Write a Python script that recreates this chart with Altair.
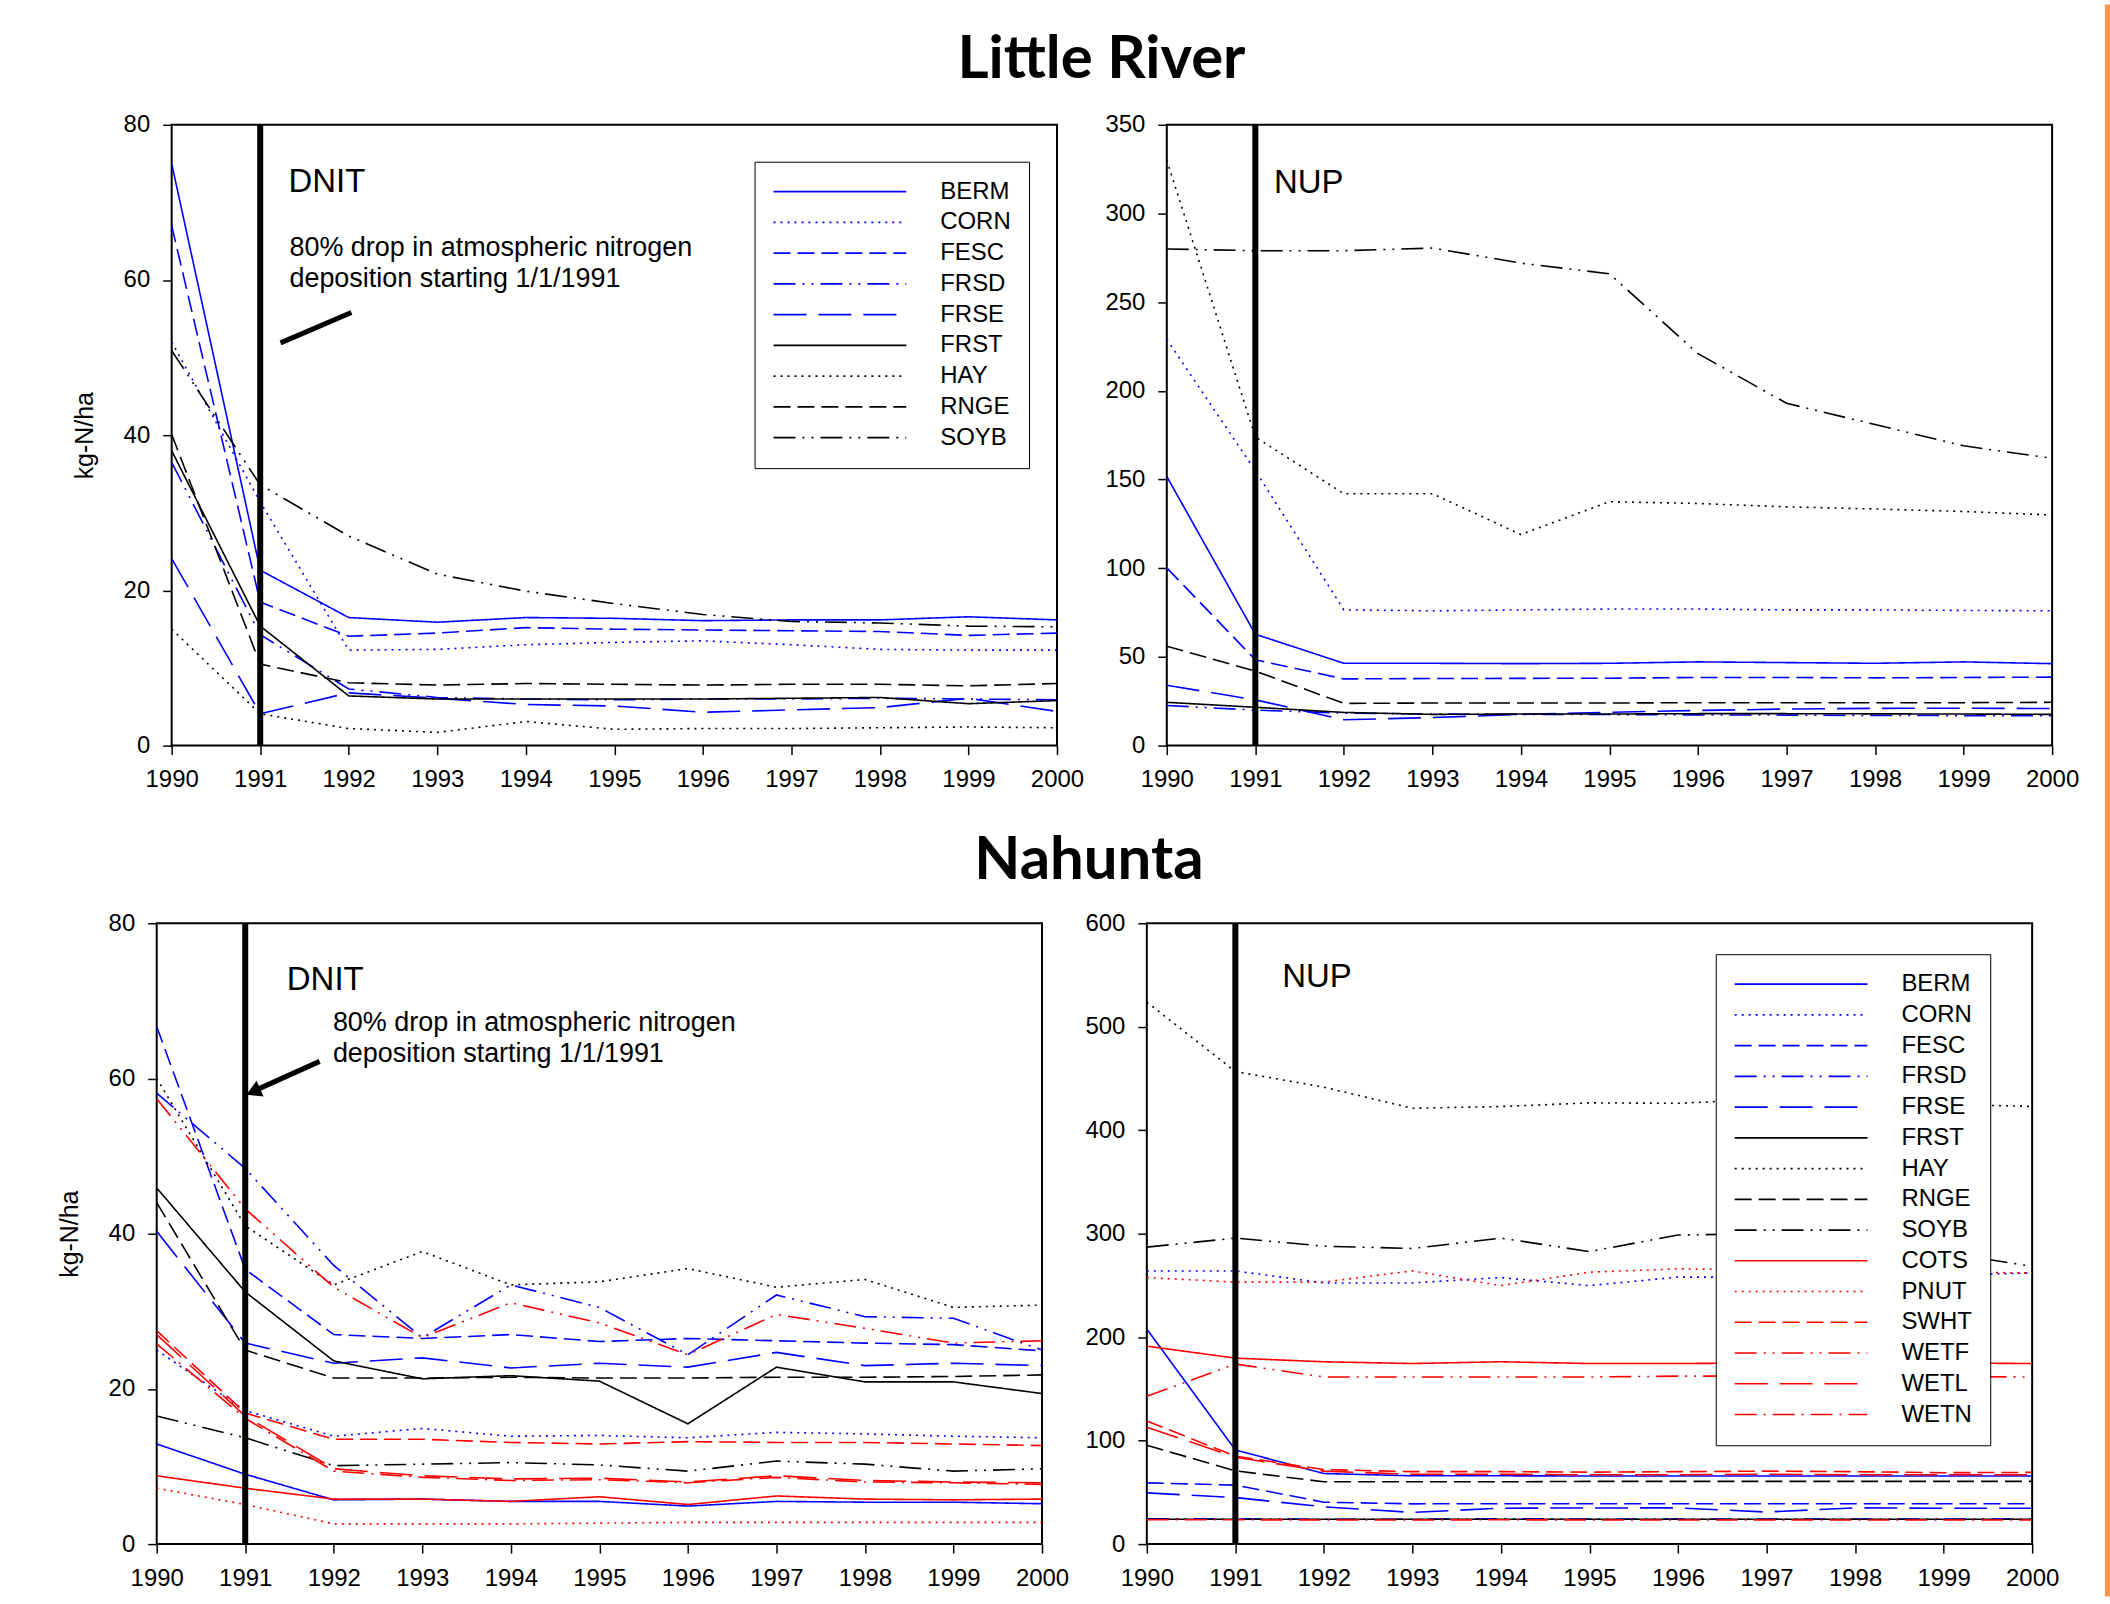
import altair as alt
import pandas as pd

FONT = "Liberation Sans"
TITLE_FONT = "Lato"
BLUE, RED, BLACK = "#0000ff", "#ff0000", "#000000"
ORANGE = "#f3954b"

YEARS = [1990, 1991, 1992, 1993, 1994, 1995, 1996, 1997, 1998, 1999, 2000]
LR_CROPS = ["BERM", "CORN", "FESC", "FRSD", "FRSE", "FRST", "HAY", "RNGE", "SOYB"]
NA_CROPS = LR_CROPS + ["COTS", "PNUT", "SWHT", "WETF", "WETL", "WETN"]

# Little River - DNIT (kg-N/ha)
LR_DNIT = {
    "BERM": [75.0, 22.6, 16.5, 15.9, 16.5, 16.4, 16.1, 16.2, 16.2, 16.6, 16.2],
    "CORN": [52.0, 31.4, 12.3, 12.4, 13.0, 13.3, 13.5, 13.0, 12.4, 12.3, 12.3],
    "FESC": [67.0, 18.5, 14.1, 14.5, 15.2, 15.0, 14.9, 14.8, 14.7, 14.2, 14.5],
    "FRSD": [36.5, 14.3, 7.3, 6.2, 6.0, 5.9, 6.0, 6.0, 6.1, 6.0, 5.9],
    "FRSE": [24.1, 4.1, 6.8, 6.1, 5.3, 5.1, 4.3, 4.6, 4.9, 6.1, 4.4],
    "FRST": [38.0, 15.4, 6.4, 6.0, 6.0, 6.0, 6.0, 6.1, 6.2, 5.4, 5.8],
    "HAY": [15.0, 4.1, 2.2, 1.7, 3.1, 2.1, 2.2, 2.2, 2.3, 2.4, 2.3],
    "RNGE": [40.1, 10.5, 8.1, 7.8, 8.0, 7.9, 7.8, 7.9, 7.9, 7.7, 8.0],
    "SOYB": [50.9, 33.6, 27.0, 22.1, 19.9, 18.3, 16.9, 16.0, 15.8, 15.4, 15.3],
}

# Little River - NUP (kg-N/ha)
LR_NUP = {
    "BERM": [151.7, 62.8, 46.4, 46.4, 46.2, 46.4, 47.2, 46.8, 46.4, 47.2, 46.2],
    "CORN": [229.0, 155.0, 76.5, 76.0, 76.5, 77.0, 77.0, 76.5, 76.5, 76.2, 76.0],
    "FESC": [100.2, 48.4, 37.6, 37.8, 37.9, 38.0, 38.4, 38.4, 38.2, 38.4, 38.6],
    "FRSD": [22.6, 20.0, 18.3, 17.8, 17.6, 17.5, 17.3, 17.2, 17.0, 16.9, 16.8],
    "FRSE": [34.0, 25.8, 14.6, 15.8, 17.6, 18.8, 19.8, 20.6, 21.0, 21.1, 20.9],
    "FRST": [24.4, 21.6, 18.7, 17.6, 17.8, 17.8, 18.0, 18.0, 17.9, 17.8, 17.6],
    "HAY": [330.0, 174.0, 142.0, 142.0, 119.0, 137.5, 136.5, 134.6, 133.4, 132.0, 130.0],
    "RNGE": [56.0, 42.0, 23.8, 24.0, 24.0, 24.0, 24.2, 24.2, 24.2, 24.2, 24.4],
    "SOYB": [280.0, 279.0, 279.0, 280.5, 272.0, 266.0, 221.0, 193.0, 181.0, 169.0, 162.0],
}

# Nahunta - DNIT (kg-N/ha)
NA_DNIT = {
    "BERM": [12.9, 9.0, 5.7, 5.8, 5.5, 5.5, 4.9, 5.5, 5.4, 5.4, 5.2],
    "CORN": [25.0, 17.2, 13.9, 14.9, 13.9, 14.0, 13.7, 14.4, 14.2, 13.9, 13.7],
    "FESC": [66.7, 35.4, 27.0, 26.5, 27.0, 26.1, 26.5, 26.2, 25.9, 25.7, 24.9],
    "FRSD": [58.1, 48.4, 35.9, 26.6, 33.4, 30.5, 24.4, 32.1, 29.3, 29.1, 25.0],
    "FRSE": [40.3, 25.9, 23.3, 24.0, 22.7, 23.3, 22.8, 24.7, 23.0, 23.3, 23.0],
    "FRST": [45.9, 32.5, 23.6, 21.3, 21.7, 21.0, 15.5, 22.8, 20.9, 20.9, 19.4],
    "HAY": [60.0, 41.0, 33.4, 37.7, 33.4, 33.8, 35.5, 33.1, 34.1, 30.5, 30.8],
    "RNGE": [44.0, 25.0, 21.4, 21.4, 21.5, 21.4, 21.4, 21.5, 21.5, 21.6, 21.8],
    "SOYB": [16.5, 13.7, 10.1, 10.3, 10.5, 10.2, 9.4, 10.7, 10.3, 9.4, 9.7],
    "COTS": [8.8, 7.2, 5.8, 5.8, 5.5, 6.1, 5.1, 6.2, 5.8, 5.7, 5.8],
    "PNUT": [7.2, 5.1, 2.6, 2.6, 2.6, 2.7, 2.8, 2.8, 2.8, 2.8, 2.8],
    "SWHT": [27.5, 16.9, 13.5, 13.5, 13.1, 12.9, 13.2, 13.1, 13.1, 12.9, 12.7],
    "WETF": [57.4, 43.2, 33.1, 26.6, 31.1, 28.5, 24.4, 29.6, 27.8, 25.9, 26.2],
    "WETL": [27.0, 16.5, 9.7, 8.8, 8.4, 8.5, 8.0, 8.8, 8.2, 8.0, 7.9],
    "WETN": [25.8, 16.2, 9.4, 8.6, 8.2, 8.3, 7.9, 8.6, 8.0, 7.9, 7.7],
}

# Nahunta - NUP (kg-N/ha)
NA_NUP = {
    "BERM": [207.8, 91.0, 68.2, 66.0, 66.0, 65.8, 65.8, 65.8, 65.8, 65.8, 65.8],
    "CORN": [264.0, 264.0, 252.4, 252.4, 257.6, 249.8, 258.0, 258.0, 258.0, 260.0, 262.0],
    "FESC": [59.2, 57.0, 40.5, 38.9, 39.0, 39.0, 39.0, 39.0, 39.0, 39.0, 39.0],
    "FRSD": [24.5, 24.2, 24.0, 24.0, 24.5, 24.2, 24.2, 24.2, 24.2, 24.2, 24.2],
    "FRSE": [49.5, 45.0, 36.0, 30.6, 34.7, 34.9, 35.0, 31.0, 35.0, 34.6, 34.6],
    "FRST": [24.0, 24.0, 24.0, 24.0, 24.0, 24.0, 24.0, 24.0, 24.0, 24.0, 24.0],
    "HAY": [523.8, 456.7, 441.6, 421.2, 422.9, 426.4, 426.0, 430.0, 428.0, 425.0, 423.0],
    "RNGE": [95.5, 70.8, 60.2, 60.2, 60.2, 60.6, 60.6, 60.6, 60.6, 60.6, 60.6],
    "SOYB": [287.0, 295.7, 287.9, 285.7, 295.7, 282.7, 298.7, 300.0, 292.0, 282.0, 268.4],
    "COTS": [191.3, 179.7, 176.2, 174.5, 176.2, 174.5, 174.5, 175.0, 175.0, 175.0, 174.5],
    "PNUT": [257.6, 253.2, 253.2, 264.0, 249.8, 262.8, 266.0, 265.0, 265.0, 263.0, 262.0],
    "SWHT": [119.0, 85.0, 72.0, 70.0, 70.0, 69.5, 70.0, 70.5, 70.0, 69.0, 69.3],
    "WETF": [142.8, 174.0, 161.5, 161.5, 161.5, 161.5, 162.3, 162.5, 162.5, 162.0, 161.5],
    "WETL": [113.0, 84.0, 70.5, 67.5, 67.5, 67.0, 67.0, 67.5, 67.0, 67.0, 67.0],
    "WETN": [23.5, 23.5, 23.3, 23.3, 23.5, 23.3, 23.3, 23.3, 23.3, 23.3, 23.3],
}

COLOR = {
    "BERM": BLUE, "CORN": BLUE, "FESC": BLUE, "FRSD": BLUE, "FRSE": BLUE,
    "FRST": BLACK, "HAY": BLACK, "RNGE": BLACK, "SOYB": BLACK,
    "COTS": RED, "PNUT": RED, "SWHT": RED, "WETF": RED, "WETL": RED, "WETN": RED,
}
SOLID = [1, 0]
DOT = [2, 5]
DASH = [17, 7]
DASHDOTDOT = [22, 7, 2, 7, 2, 7]
LONGDASH = [33, 12]
DASHDOT = [22, 7, 2, 7]
STYLE = {
    "BERM": SOLID, "CORN": DOT, "FESC": DASH, "FRSD": DASHDOTDOT, "FRSE": LONGDASH,
    "FRST": SOLID, "HAY": DOT, "RNGE": DASH, "SOYB": DASHDOTDOT,
    "COTS": SOLID, "PNUT": DOT, "SWHT": DASH, "WETF": DASHDOTDOT, "WETL": LONGDASH,
    "WETN": DASHDOT,
}

ONE = pd.DataFrame({"a": [0]})
PW, PH = 887, 622


def to_long(d, crops):
    rows = []
    for c in crops:
        for yr, v in zip(YEARS, d[c]):
            rows.append({"year": yr, "value": v, "crop": c})
    return pd.DataFrame(rows)


def x_axis():
    return alt.Axis(values=YEARS, format="d", title=None, grid=False, domain=False,
                    ticks=True, tickSize=9, tickWidth=1.5, tickColor="black",
                    labelFont=FONT, labelFontSize=24, labelColor="black",
                    labelPadding=13, labelOverlap=False, labelFlush=False)


def y_axis(ymax, step, title):
    kw = dict(values=list(range(0, ymax + 1, step)), grid=False, domain=False,
              ticks=True, tickSize=9, tickWidth=1.5, tickColor="black",
              labelFont=FONT, labelFontSize=24, labelColor="black",
              labelPadding=13, labelOverlap=False, labelFlush=False)
    if title:
        kw.update(title=title, titleFont=FONT, titleFontSize=25,
                  titleFontWeight="normal", titleColor="black", titlePadding=26)
    else:
        kw.update(title=None)
    return alt.Axis(**kw)


def make_legend(lx, ly):
    return alt.Legend(title=None, orient="none", legendX=lx, legendY=ly,
                      symbolType="stroke", symbolSize=133 * 133, symbolStrokeWidth=1.6,
                      clipHeight=24, rowPadding=6.8, padding=18, labelOffset=33,
                      labelFont=FONT, labelFontSize=24, labelColor="black",
                      strokeColor="black", fillColor="white", direction="vertical")


def text_layer(x, y, txt, size):
    return alt.Chart(ONE).mark_text(text=txt, align="left", baseline="middle", font=FONT,
                                    fontSize=size, color="black").encode(
        x=alt.datum(x), y=alt.datum(y))


def panel(data, crops, ymax, step, ytitle, legend_pos, extras):
    df = to_long(data, crops)
    xs = alt.Scale(domain=[1990, 2000], nice=False, zero=False)
    ys = alt.Scale(domain=[0, ymax], nice=False)
    leg = make_legend(*legend_pos) if legend_pos else None
    lines = alt.Chart(df).mark_line(strokeWidth=1.6, clip=True).encode(
        x=alt.X("year:Q", scale=xs, axis=x_axis()),
        y=alt.Y("value:Q", scale=ys, axis=y_axis(ymax, step, ytitle)),
        color=alt.Color("crop:N", scale=alt.Scale(domain=crops, range=[COLOR[c] for c in crops]),
                        legend=leg),
        strokeDash=alt.StrokeDash("crop:N",
                                  scale=alt.Scale(domain=crops, range=[STYLE[c] for c in crops]),
                                  legend=leg),
        detail="crop:N",
    )
    vline = alt.Chart(pd.DataFrame({"year": [1991]})).mark_rule(
        color="black", strokeWidth=6).encode(x=alt.X("year:Q", scale=xs, axis=x_axis()))
    return alt.layer(lines, vline, *extras).properties(
        width=PW, height=PH, view=alt.ViewBackground(stroke="black", strokeWidth=2))


# --- annotations ---
tl_extras = [
    text_layer(1991.32, 72.6, "DNIT", 33),
    text_layer(1991.33, 64.1, "80% drop in atmospheric nitrogen", 27),
    text_layer(1991.33, 60.1, "deposition starting 1/1/1991", 27),
    alt.Chart(ONE).mark_rule(color="black", strokeWidth=5).encode(
        x=alt.datum(1991.23), y=alt.datum(51.9), x2=alt.datum(1992.03), y2=alt.datum(55.8)),
]
tr_extras = [text_layer(1991.21, 317.4, "NUP", 33)]
bl_extras = [
    text_layer(1991.47, 72.7, "DNIT", 33),
    text_layer(1991.99, 67.2, "80% drop in atmospheric nitrogen", 27),
    text_layer(1991.99, 63.2, "deposition starting 1/1/1991", 27),
    alt.Chart(ONE).mark_rule(color="black", strokeWidth=5).encode(
        x=alt.datum(1991.84), y=alt.datum(62.2), x2=alt.datum(1991.12), y2=alt.datum(58.5)),
    alt.Chart(ONE).mark_point(shape="triangle-up", filled=True, size=300, angle=246,
                              color="black", opacity=1).encode(
        x=alt.datum(1991.09), y=alt.datum(58.3)),
]
br_extras = [text_layer(1991.53, 548.5, "NUP", 33)]

TL = panel(LR_DNIT, LR_CROPS, 80, 20, "kg-N/ha", (584, 37), tl_extras)
TR = panel(LR_NUP, LR_CROPS, 350, 50, None, None, tr_extras)
BL = panel(NA_DNIT, NA_CROPS, 80, 20, "kg-N/ha", None, bl_extras)
BR = panel(NA_NUP, NA_CROPS, 600, 100, None, (570, 31), br_extras)


def indep(c):
    return c.resolve_scale(color="independent", strokeDash="independent").resolve_legend(
        color="independent", strokeDash="independent")


def row_title(txt, dx, offset):
    return alt.Title(txt, font=TITLE_FONT, fontSize=60, fontWeight="bold", color="black",
                     anchor="middle", offset=offset, dx=dx)


def blank():
    return alt.Chart(ONE).mark_point(opacity=0, size=1).encode(
        x=alt.value(0), y=alt.value(0)).properties(width=1, height=1,
                                                   view=alt.ViewBackground(stroke=None))


top_pair = indep(alt.hconcat(TL, TR, spacing=18)).properties(
    title=row_title("Little River", 26, 20.5))
row1 = indep(alt.hconcat(blank(), top_pair, spacing=14, bounds="flush"))
row2 = indep(alt.hconcat(BL, BR, spacing=13)).properties(title=row_title("Nahunta", 31, 18))

rows = indep(alt.vconcat(row1, row2, spacing=39))
body = indep(alt.vconcat(blank(), rows, spacing=24.5))

orange = alt.Chart(ONE).mark_point(opacity=0).encode(
    x=alt.value(0), y=alt.value(0)).properties(
    width=5, height=1595, view=alt.ViewBackground(fill=ORANGE, stroke=None))

chart = indep(alt.hconcat(body, orange, spacing=22)).properties(
    padding={"left": 56, "top": 0, "right": 0, "bottom": 0},
    background="white",
).configure(font=FONT).configure_view(stroke="black", strokeWidth=2)

chart.save("out.html", embed_options={"renderer": "svg", "actions": False})
